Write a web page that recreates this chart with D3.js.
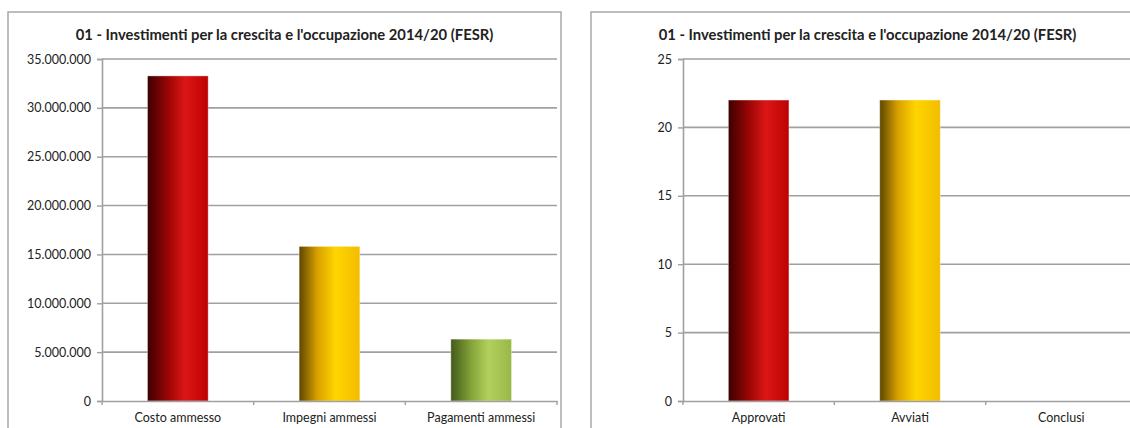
<!DOCTYPE html>
<html><head><meta charset="utf-8">
<script src="https://cdn.jsdelivr.net/npm/d3@7"></script>
<style>
html,body{margin:0;padding:0;background:#fff;}
svg{display:block;}
text{font-family:Lato,"Open Sans",sans-serif;fill:#222;}
</style></head>
<body>
<svg id="c" width="1130" height="428"></svg>
<script>
const title = "01 - Investimenti per la crescita e l'occupazione 2014/20 (FESR)";
const catsA = ["Costo ammesso", "Impegni ammessi", "Pagamenti ammessi"];
const valsA = [33270000, 15820000, 6330000];
const ticksA = [0, 5000000, 10000000, 15000000, 20000000, 25000000, 30000000, 35000000];
const catsB = ["Approvati", "Avviati", "Conclusi"];
const valsB = [22, 22, 0];
const ticksB = [0, 5, 10, 15, 20, 25];
const gradA = ["red", "yellow", "green"];
const gradB = ["red", "yellow", "green"];

const svg = d3.select("#c");
const defs = svg.append("defs");
const grads = {
  red: [[0,"#3c0000"],[0.35,"#9e0606"],[0.62,"#dc1616"],[1,"#bd0202"]],
  yellow: [[0,"#5e4600"],[0.3,"#d9a000"],[0.6,"#ffd500"],[1,"#f2bc00"]],
  green: [[0,"#435a1c"],[0.35,"#86a63a"],[0.62,"#b2d05c"],[1,"#98b848"]]
};
Object.entries(grads).forEach(([k, stops]) => {
  const g = defs.append("linearGradient").attr("id", "g-" + k)
    .attr("x1", "0").attr("x2", "1").attr("y1", "0").attr("y2", "0");
  stops.forEach(s => g.append("stop").attr("offset", s[0]).attr("stop-color", s[1]));
});

const itFmt = d3.formatLocale({decimal: ",", thousands: ".", grouping: [3], currency: ["", ""]}).format(",d");

function chart(opts) {
  const {bx, by, bw, bh, left, right, top, bottom, cats, vals, ticks, fills, fmt} = opts;
  const g = svg.append("g");
  g.append("rect").attr("x", bx).attr("y", by).attr("width", bw).attr("height", bh)
    .attr("fill", "#fff").attr("stroke", "#a8a8a8").attr("stroke-width", 1.5);
  const t = g.append("text").attr("x", bx + bw / 2).attr("y", by + 28)
    .attr("text-anchor", "middle").attr("font-weight", "bold").attr("font-size", 14).text(title);
  const tw = t.node().getComputedTextLength();
  t.attr("font-size", 14 * 418 / tw);

  const x = d3.scaleBand().domain(cats).range([left, right]).paddingInner(0.6).paddingOuter(0.3);
  const y = d3.scaleLinear().domain([0, d3.max(ticks)]).range([bottom, top]);

  g.append("g").selectAll("line").data(ticks.filter(d => d > 0)).join("line")
    .attr("x1", left).attr("x2", right).attr("y1", d => y(d)).attr("y2", d => y(d))
    .attr("stroke", "#a0a0a0").attr("stroke-width", 1.6);

  const ya = g.append("g").attr("transform", `translate(${left},0)`)
    .call(d3.axisLeft(y).tickValues(ticks).tickFormat(fmt).tickSize(5).tickPadding(6));
  ya.select(".domain").attr("stroke", "#a0a0a0").attr("stroke-width", 1.6);
  ya.selectAll(".tick line").attr("stroke", "#a0a0a0").attr("stroke-width", 1.4);
  ya.selectAll("text").attr("font-size", 12.5).attr("fill", "#1a1a1a").style("font-family", "Lato,sans-serif");

  g.append("g").selectAll("rect").data(cats).join("rect")
    .attr("x", d => x(d)).attr("width", x.bandwidth())
    .attr("y", (d, i) => y(vals[i])).attr("height", (d, i) => bottom - y(vals[i]))
    .attr("fill", (d, i) => `url(#g-${fills[i]})`)
    .attr("stroke", (d, i) => vals[i] > 0 ? "rgba(255,255,255,0.35)" : "none").attr("stroke-width", 1);

  const xa = g.append("g").attr("transform", `translate(0,${bottom})`)
    .call(d3.axisBottom(x).tickSize(0).tickPadding(12));
  xa.select(".domain").attr("stroke", "#a0a0a0").attr("stroke-width", 1.6);
  xa.selectAll("text").attr("font-size", 12.5).attr("fill", "#1a1a1a").style("font-family", "Lato,sans-serif");
  const bounds = d3.range(cats.length + 1).map(i => left + i * (right - left) / cats.length);
  xa.selectAll("line.bt").data(bounds).join("line").attr("class", "bt")
    .attr("x1", d => d).attr("x2", d => d).attr("y1", 0).attr("y2", 4)
    .attr("stroke", "#a0a0a0").attr("stroke-width", 1.4);
}

chart({bx: 8, by: 12, bw: 553, bh: 430, left: 102, right: 557, top: 59, bottom: 401,
  cats: catsA, vals: valsA, ticks: ticksA, fills: gradA, fmt: itFmt});
chart({bx: 591, by: 12, bw: 553, bh: 430, left: 683, right: 1137, top: 59, bottom: 401,
  cats: catsB, vals: valsB, ticks: ticksB, fills: gradB, fmt: d3.format("d")});
</script>
</body></html>
